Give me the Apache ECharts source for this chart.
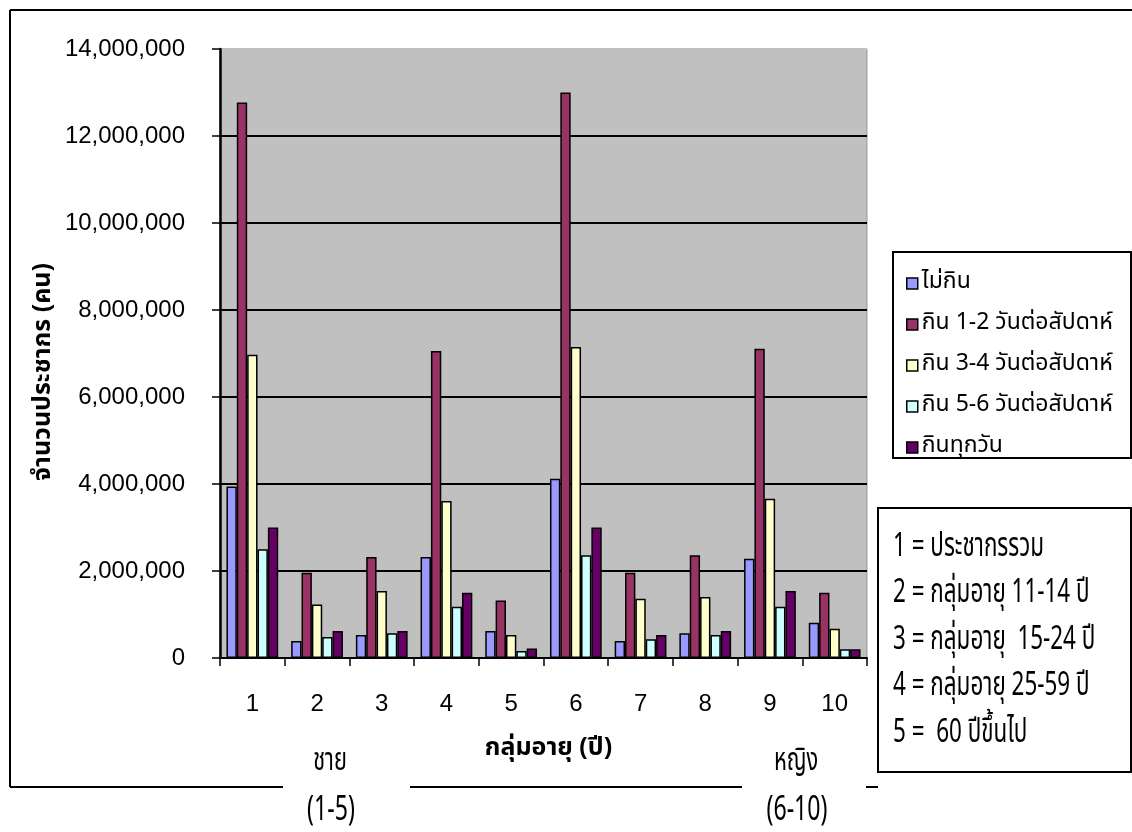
<!DOCTYPE html>
<html><head><meta charset="utf-8">
<script src="https://cdn.jsdelivr.net/npm/echarts@6/dist/echarts.min.js"></script>
<style>html,body{margin:0;padding:0;background:#fff}#c{width:1132px;height:832px}</style>
</head><body><div id="c"></div>
<script>
const categories = ['1','2','3','4','5','6','7','8','9','10'];
const seriesNames = ['ไม่กิน','กิน 1-2 วันต่อสัปดาห์','กิน 3-4 วันต่อสัปดาห์','กิน 5-6 วันต่อสัปดาห์','กินทุกวัน'];
const notEat   = [3940000, 390000, 530000, 2320000, 620000, 4120000, 390000, 570000, 2280000, 810000];
const eat12    = [12770000, 1960000, 2320000, 7060000, 1320000, 13000000, 1960000, 2360000, 7110000, 1500000];
const eat34    = [6970000, 1230000, 1540000, 3610000, 530000, 7150000, 1360000, 1400000, 3660000, 670000];
const eat56    = [2500000, 480000, 570000, 1180000, 160000, 2360000, 430000, 530000, 1180000, 200000];
const everyDay = [3000000, 620000, 620000, 1500000, 220000, 3000000, 530000, 620000, 1540000, 200000];
const colors = ['#9999FF','#993366','#FFFFCC','#CCFFFF','#660066'];
const yAxisTitle = 'จำนวนประชากร (คน)';
const xAxisTitle = 'กลุ่มอายุ (ปี)';
const noteLines = ['1 = ประชากรรวม','2 = กลุ่มอายุ 11-14 ปี','3 = กลุ่มอายุ  15-24 ปี','4 = กลุ่มอายุ 25-59 ปี','5 =  60 ปีขึ้นไป'];
const maleLabel = ['ชาย','(1-5)'];
const femaleLabel = ['หญิง','(6-10)'];

const thaiFont = "Tahoma, 'Noto Sans Thai', 'Noto Sans', 'DejaVu Sans', sans-serif";
const narrowFont = "'Liberation Sans Narrow', 'Noto Sans Thai', 'Noto Sans', sans-serif";
const chart = echarts.init(document.getElementById('c'), null, {renderer:'canvas'});
const dataSets = [notEat, eat12, eat34, eat56, everyDay];

function narrowText(txt, x, y, size, align){
  return {type:'text', x:x, y:y, scaleX:0.68, z:10,
    style:{text:txt, font:size+"px "+narrowFont, fill:'#000', align:align, verticalAlign:'middle'}};
}

const graphics = [
  {type:'line', shape:{x1:10,y1:10,x2:1132,y2:10}, style:{stroke:'#000',lineWidth:2}},
  {type:'line', shape:{x1:10,y1:10,x2:10,y2:787}, style:{stroke:'#000',lineWidth:2}},
  {type:'line', shape:{x1:10,y1:787,x2:283,y2:787}, style:{stroke:'#000',lineWidth:2}},
  {type:'line', shape:{x1:410,y1:787,x2:742,y2:787}, style:{stroke:'#000',lineWidth:2}},
  {type:'line', shape:{x1:866,y1:787,x2:878,y2:787}, style:{stroke:'#000',lineWidth:2}},
  {type:'rect', shape:{x:893,y:252,width:238,height:206}, style:{fill:'#fff',stroke:'#000',lineWidth:2}},
  {type:'rect', shape:{x:878,y:508,width:253,height:264}, style:{fill:'#fff',stroke:'#000',lineWidth:2}},
  narrowText(maleLabel[0], 330, 764, 32, 'center'),
  narrowText(maleLabel[1], 331, 813, 34, 'center'),
  narrowText(femaleLabel[0], 796, 764, 32, 'center'),
  narrowText(femaleLabel[1], 797, 813, 34, 'center'),
  {type:'text', x:45, y:372, rotation:Math.PI/2, z:10,
    style:{text:yAxisTitle, font:"bold 25px "+thaiFont, fill:'#000', align:'center', verticalAlign:'middle'}}
];
noteLines.forEach((t,i)=>{
  graphics.push(narrowText(t, 893, 549+i*46.5, 33, 'left'));
});

const option = {
  animation:false,
  backgroundColor:'#fff',
  color: colors,
  graphic: graphics,
  legend: {
    orient:'vertical', left:901, top:263, itemGap:10, itemWidth:11, itemHeight:11,
    icon:'rect', z:20,
    textStyle:{fontSize:23, fontFamily:thaiFont, color:'#000', lineHeight:26, padding:[5,0,0,-1]},
    itemStyle:{borderColor:'#000', borderWidth:1.5},
    data: seriesNames
  },
  grid:{left:220, right:265, top:49, bottom:174, show:true, backgroundColor:'#C0C0C0', borderColor:'#999', borderWidth:1},
  xAxis:{
    type:'category', data:categories,
    axisLine:{lineStyle:{color:'#000', width:2}},
    axisTick:{show:true, length:8, lineStyle:{color:'#000', width:1.5}},
    axisLabel:{color:'#000', fontSize:24, fontFamily:"'Liberation Sans', Arial, sans-serif", margin:34},
    name:xAxisTitle, nameLocation:'middle', nameGap:79,
    nameTextStyle:{fontSize:25, fontWeight:'bold', fontFamily:thaiFont, color:'#000', padding:[0,0,0,10]}
  },
  yAxis:{
    type:'value', min:0, max:14000000, interval:2000000,
    axisLine:{show:true, lineStyle:{color:'#000', width:2.5}},
    axisTick:{show:true, length:8, lineStyle:{color:'#000', width:1.5}},
    axisLabel:{color:'#000', fontSize:24, fontFamily:"'Liberation Sans', Arial, sans-serif", margin:35,
      formatter:v=>v.toLocaleString('en-US')},
    splitLine:{show:true, lineStyle:{color:['#000','#000','#000','#000','#000','#000','#000','#C0C0C0'], width:2}}
  },
  series: seriesNames.map((n,i)=>({
    name:n, type:'bar', data:dataSets[i], barGap:'0%', barCategoryGap:'20%',
    itemStyle:{color:colors[i], borderColor:'#000', borderWidth:1.5}
  }))
};
chart.setOption(option);
</script></body></html>
